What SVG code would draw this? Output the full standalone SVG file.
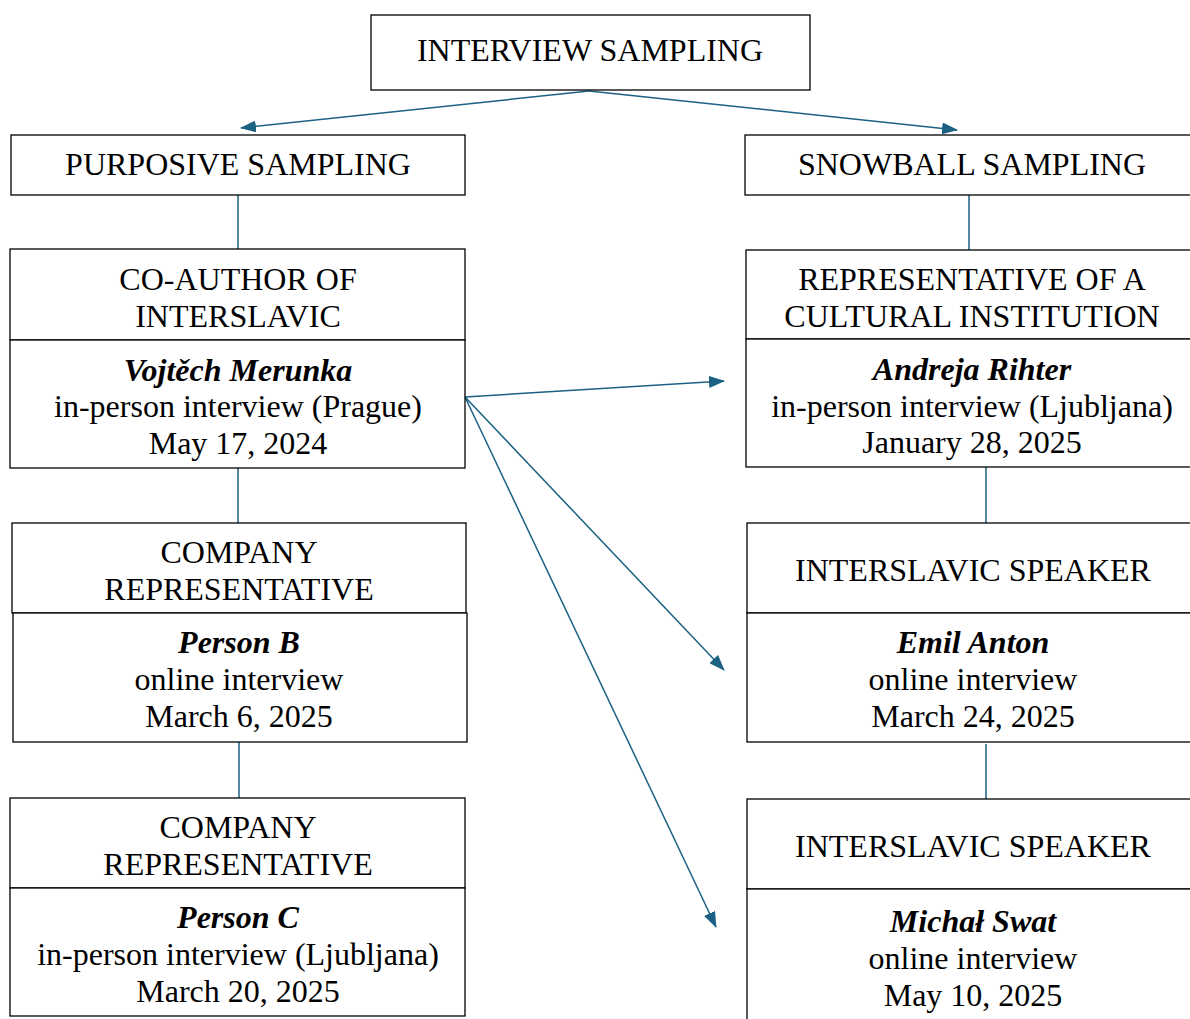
<svg xmlns="http://www.w3.org/2000/svg" width="1190" height="1019" viewBox="0 0 1190 1019">
<defs>
<marker id="ah" markerWidth="16" markerHeight="12" refX="15" refY="6" orient="auto" markerUnits="userSpaceOnUse">
<path d="M0,0 L16,6 L0,12 Z" fill="#1b6184"/>
</marker>
<style>
.box{fill:#fff;stroke:#000;stroke-width:1.3}
.t{font-family:"Liberation Serif","Times New Roman",serif;font-size:32px;fill:#000;text-anchor:middle}
.n{font-weight:bold;font-style:italic}
.c{stroke:#1b6184;stroke-width:1.5;fill:none}
.a{marker-end:url(#ah)}
</style>
</defs>
<rect width="1190" height="1019" fill="#fff"/>
<g id="connectors">
<line class="c a" x1="589" y1="91" x2="241" y2="128"/>
<line class="c a" x1="589" y1="91" x2="957" y2="130"/>
<line class="c" x1="238" y1="195" x2="238" y2="249"/>
<line class="c" x1="238" y1="468" x2="238" y2="523"/>
<line class="c" x1="239" y1="742" x2="239" y2="798"/>
<line class="c" x1="969" y1="195" x2="969" y2="250"/>
<line class="c" x1="986" y1="467" x2="986" y2="523"/>
<line class="c" x1="986" y1="744" x2="986" y2="799"/>
<line class="c a" x1="465" y1="397" x2="724" y2="381"/>
<line class="c a" x1="465" y1="397" x2="724" y2="670"/>
<line class="c a" x1="465" y1="397" x2="716" y2="927"/>
</g>
<g id="interview-sampling">
<rect class="box" x="371" y="15" width="439" height="75"/>
<text class="t" x="590" y="61">INTERVIEW SAMPLING</text>
</g>
<g id="purposive-sampling">
<rect class="box" x="11" y="135" width="454" height="60"/>
<text class="t" x="238" y="175">PURPOSIVE SAMPLING</text>
</g>
<g id="snowball-sampling">
<rect class="box" x="745" y="135" width="450" height="60"/>
<text class="t" x="972" y="175">SNOWBALL SAMPLING</text>
</g>
<g id="merunka">
<rect class="box" x="10" y="249" width="455" height="91"/>
<rect class="box" x="10" y="340" width="455" height="128"/>
<text class="t" x="238" y="290">CO-AUTHOR OF</text>
<text class="t" x="238" y="327">INTERSLAVIC</text>
<text class="t n" x="238" y="381">Vojtěch Merunka</text>
<text class="t" x="238" y="417">in-person interview (Prague)</text>
<text class="t" x="238" y="454">May 17, 2024</text>
</g>
<g id="person-b">
<rect class="box" x="12" y="523" width="454" height="90"/>
<rect class="box" x="13" y="613" width="454" height="129"/>
<text class="t" x="239" y="563">COMPANY</text>
<text class="t" x="239" y="600">REPRESENTATIVE</text>
<text class="t n" x="239" y="653">Person B</text>
<text class="t" x="239" y="690">online interview</text>
<text class="t" x="239" y="727">March 6, 2025</text>
</g>
<g id="person-c">
<rect class="box" x="10" y="798" width="455" height="90"/>
<rect class="box" x="10" y="888" width="455" height="128"/>
<text class="t" x="238" y="838">COMPANY</text>
<text class="t" x="238" y="875">REPRESENTATIVE</text>
<text class="t n" x="238" y="928">Person C</text>
<text class="t" x="238" y="965">in-person interview (Ljubljana)</text>
<text class="t" x="238" y="1002">March 20, 2025</text>
</g>
<g id="rihter">
<rect class="box" x="746" y="250" width="450" height="89"/>
<rect class="box" x="746" y="339" width="450" height="128"/>
<text class="t" x="972" y="290">REPRESENTATIVE OF A</text>
<text class="t" x="972" y="327">CULTURAL INSTITUTION</text>
<text class="t n" x="972" y="380">Andreja Rihter</text>
<text class="t" x="972" y="417">in-person interview (Ljubljana)</text>
<text class="t" x="972" y="453">January 28, 2025</text>
</g>
<g id="anton">
<rect class="box" x="747" y="523" width="450" height="90"/>
<rect class="box" x="747" y="613" width="450" height="129"/>
<text class="t" x="973" y="581">INTERSLAVIC SPEAKER</text>
<text class="t n" x="973" y="653">Emil Anton</text>
<text class="t" x="973" y="690">online interview</text>
<text class="t" x="973" y="727">March 24, 2025</text>
</g>
<g id="swat">
<rect class="box" x="747" y="799" width="450" height="90"/>
<rect class="box" x="747" y="889" width="450" height="140"/>
<text class="t" x="973" y="857">INTERSLAVIC SPEAKER</text>
<text class="t n" x="973" y="932">Michał Swat</text>
<text class="t" x="973" y="969">online interview</text>
<text class="t" x="973" y="1006">May 10, 2025</text>
</g>
</svg>
